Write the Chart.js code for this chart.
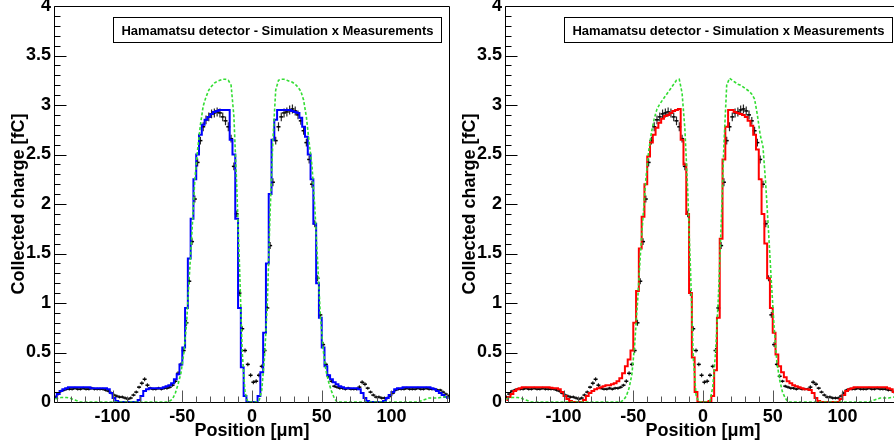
<!DOCTYPE html>
<html>
<head>
<meta charset="utf-8">
<script src="https://cdn.jsdelivr.net/npm/chart.js@4.4.1/dist/chart.umd.min.js"></script>
<style>
  html, body { margin:0; padding:0; background:#fff; }
  body { width:894px; height:445px; overflow:hidden; position:relative; }
  .pane { position:absolute; top:0; width:452px; height:445px; }
</style>
</head>
<body>
<div class="pane" style="left:0"><canvas id="c1"></canvas></div>
<div class="pane" style="left:451px"><canvas id="c2"></canvas></div>
<script>
// ---- data (bin centres in micrometres, collected charge in fC) ----
const positions = [
 -141,-139,-137,-135,-133,-131,-129,-127,-125,-123,
 -121,-119,-117,-115,-113,-111,-109,-107,-105,-103,
 -101,-99,-97,-95,-93,-91,-89,-87,-85,-83,
 -81,-79,-77,-75,-73,-71,-69,-67,-65,-63,
 -61,-59,-57,-55,-53,-51,-49,-47,-45,-43,
 -41,-39,-37,-35,-33,-31,-29,-27,-25,-23,
 -21,-19,-17,-15,-13,-11,-9,-7,-5,-3,
 -1,1,3,5,7,9,11,13,15,17,
 19,21,23,25,27,29,31,33,35,37,
 39,41,43,45,47,49,51,53,55,57,
 59,61,63,65,67,69,71,73,75,77,
 79,81,83,85,87,89,91,93,95,97,
 99,101,103,105,107,109,111,113,115,117,
 119,121,123,125,127,129,131,133,135,137,
 139,141];

const measured = [
 0.05,0.08,0.11,0.12,0.13,0.13,0.13,0.14,0.13,0.13,
 0.14,0.13,0.13,0.14,0.13,0.13,0.13,0.13,0.12,0.11,
 0.09,0.07,0.06,0.05,0.05,0.04,0.03,0.04,0.07,0.10,
 0.15,0.19,0.23,0.17,0.14,0.13,0.13,0.14,0.13,0.14,
 0.14,0.15,0.17,0.21,0.29,0.38,0.52,0.80,1.22,1.62,
 2.05,2.42,2.64,2.78,2.85,2.88,2.91,2.92,2.93,2.92,
 2.88,2.84,2.78,2.66,2.38,1.90,1.10,0.74,0.52,0.38,
 0.27,0.20,0.21,0.27,0.36,0.52,0.95,1.58,2.22,2.64,
 2.78,2.88,2.92,2.93,2.95,2.96,2.94,2.90,2.84,2.74,
 2.62,2.45,2.20,1.80,1.25,0.88,0.58,0.38,0.26,0.21,
 0.16,0.15,0.14,0.14,0.13,0.14,0.13,0.13,0.13,0.15,
 0.20,0.18,0.14,0.10,0.07,0.05,0.05,0.04,0.04,0.04,
 0.06,0.09,0.12,0.13,0.13,0.13,0.14,0.13,0.13,0.13,
 0.14,0.13,0.13,0.14,0.13,0.13,0.13,0.12,0.12,0.10,
 0.08,0.06];

const measuredErr = [
 0.015,0.015,0.015,0.015,0.015,0.015,0.015,0.015,0.015,0.015,
 0.015,0.015,0.015,0.015,0.015,0.015,0.015,0.015,0.015,0.015,
 0.015,0.015,0.015,0.015,0.015,0.015,0.015,0.015,0.015,0.015,
 0.015,0.02,0.02,0.02,0.015,0.015,0.015,0.015,0.015,0.015,
 0.015,0.015,0.015,0.02,0.02,0.02,0.025,0.03,0.03,0.035,
 0.035,0.04,0.04,0.045,0.045,0.045,0.045,0.045,0.045,0.045,
 0.045,0.045,0.045,0.04,0.04,0.035,0.03,0.025,0.02,0.02,
 0.02,0.02,0.02,0.02,0.02,0.025,0.03,0.035,0.04,0.04,
 0.045,0.045,0.045,0.045,0.045,0.045,0.045,0.045,0.04,0.04,
 0.04,0.04,0.035,0.035,0.03,0.03,0.025,0.02,0.02,0.015,
 0.015,0.015,0.015,0.015,0.015,0.015,0.015,0.015,0.015,0.02,
 0.02,0.02,0.015,0.015,0.015,0.015,0.015,0.015,0.015,0.015,
 0.015,0.015,0.015,0.015,0.015,0.015,0.015,0.015,0.015,0.015,
 0.015,0.015,0.015,0.015,0.015,0.015,0.015,0.015,0.015,0.015,
 0.015,0.015];

const simBlue = [
 0.05,0.08,0.11,0.13,0.14,0.15,0.15,0.15,0.15,0.15,
 0.15,0.15,0.15,0.14,0.14,0.14,0.14,0.14,0.14,0.13,
 0.09,0.04,0.01,0,0,0,0,0,0,0,
 0.02,0.06,0.11,0.13,0.14,0.14,0.14,0.14,0.14,0.15,
 0.16,0.17,0.19,0.23,0.28,0.38,0.55,0.95,1.45,1.85,
 2.25,2.50,2.70,2.80,2.85,2.88,2.91,2.93,2.94,2.95,
 2.95,2.95,2.95,2.65,2.50,1.85,0.95,0.35,0.06,0,
 0,0,0,0.06,0.30,0.70,1.40,2.10,2.65,2.85,
 2.95,2.95,2.95,2.95,2.95,2.94,2.93,2.92,2.87,2.78,
 2.68,2.50,2.25,1.80,1.20,0.85,0.55,0.36,0.27,0.23,
 0.20,0.18,0.16,0.15,0.14,0.14,0.14,0.14,0.14,0.13,
 0.09,0.04,0.01,0,0,0,0,0,0.01,0.04,
 0.07,0.10,0.13,0.14,0.14,0.15,0.15,0.15,0.15,0.15,
 0.15,0.15,0.15,0.15,0.15,0.14,0.13,0.11,0.09,0.07,
 0.05,0.04];

const simGreenLeft = [
 0.03,0.04,0.045,0.045,0.045,0.04,0.03,0.02,0.01,0,
 0,0,0,0,0,0,0,0,0,0,
 0,0,0,0,0,0,0,0,0,0,
 0,0,0,0,0,0,0,0,0,0,
 0,0.01,0.03,0.09,0.18,0.29,0.48,0.78,1.26,1.73,
 2.25,2.55,2.80,2.99,3.08,3.15,3.19,3.22,3.24,3.25,
 3.26,3.26,3.25,3.20,2.89,2.20,1.39,0.50,0.10,0,
 0,0,0,0.01,0.12,0.45,1.00,1.92,2.65,3.15,
 3.25,3.26,3.26,3.25,3.24,3.23,3.21,3.18,3.14,3.05,
 2.88,2.62,2.39,1.98,1.43,0.88,0.53,0.32,0.20,0.11,
 0.04,0,0,0,0,0,0,0,0,0,
 0,0,0,0,0,0,0,0,0,0,
 0,0,0,0,0,0,0,0,0,0,
 0,0.01,0.02,0.03,0.04,0.04,0.04,0.04,0.045,0.05,
 0.05,0.05];

const simRed = [
 0.02,0.05,0.08,0.11,0.13,0.14,0.15,0.15,0.15,0.15,
 0.15,0.15,0.15,0.15,0.15,0.15,0.145,0.14,0.14,0.13,
 0.10,0.06,0.03,0.01,0,0,0,0,0.02,0.06,
 0.09,0.11,0.13,0.14,0.15,0.16,0.17,0.17,0.18,0.19,
 0.21,0.24,0.29,0.36,0.43,0.52,0.80,1.12,1.55,1.87,
 2.20,2.48,2.62,2.70,2.77,2.82,2.86,2.89,2.90,2.92,
 2.94,2.95,2.96,2.65,2.40,1.90,1.10,0.45,0.10,0,
 0,0,0,0.01,0.06,0.32,0.85,1.65,2.45,2.78,
 2.95,2.95,2.93,2.92,2.91,2.90,2.88,2.84,2.79,2.70,
 2.55,2.25,1.90,1.60,1.25,0.95,0.70,0.48,0.36,0.30,
 0.25,0.21,0.19,0.17,0.16,0.15,0.14,0.13,0.13,0.12,
 0.09,0.04,0.01,0,0,0,0,0,0,0,
 0.03,0.07,0.11,0.13,0.14,0.15,0.15,0.15,0.15,0.15,
 0.15,0.15,0.15,0.15,0.15,0.15,0.15,0.14,0.13,0.10,
 0.08,0.06];

const simGreenRight = [
 0.03,0.04,0.045,0.045,0.045,0.04,0.03,0.02,0.01,0,
 0,0,0,0,0,0,0,0,0,0,
 0,0,0,0,0,0,0,0,0,0,
 0,0,0,0,0,0,0,0,0,0,
 0,0,0.02,0.06,0.14,0.28,0.58,1.00,1.47,1.87,
 2.25,2.53,2.72,2.86,2.96,3.01,3.05,3.09,3.13,3.17,
 3.21,3.25,3.26,3.12,2.76,2.15,1.35,0.45,0.07,0,
 0,0,0,0.01,0.15,0.50,1.05,1.78,2.60,3.20,
 3.27,3.25,3.23,3.21,3.20,3.18,3.16,3.14,3.11,3.06,
 2.90,2.70,2.58,2.20,1.72,1.22,0.76,0.40,0.22,0.10,
 0.04,0,0,0,0,0,0,0,0,0,
 0,0,0,0,0,0,0,0,0,0,
 0,0,0,0,0,0,0,0,0,0,
 0,0.01,0.02,0.03,0.04,0.04,0.04,0.04,0.045,0.05,
 0.05,0.05];

const xRange = [-142, 142];
const yRange = [0, 4];
const xTickStep = 50, yTickStep = 0.5;
const xMinorStep = 10, yMinorStep = 0.1;
const legendText = 'Hamamatsu detector - Simulation x Measurements';
const xTitle = 'Position [\u03bcm]';
const yTitle = 'Collected charge [fC]';

// ---- helpers ----
const FONT = "'Liberation Sans', Arial, Helvetica, sans-serif";
function pts(ys) { return positions.map((x, i) => ({x: x, y: ys[i]})); }
function errSegs(ys, es) {
  const out = [];
  positions.forEach((x, i) => {
    out.push({x: x, y: ys[i] - es[i]}, {x: x, y: ys[i] + es[i]}, {x: x, y: null});
  });
  return out;
}

const framePlugin = {
  id: 'rootFrame',
  afterDraw(chart) {
    const {ctx, chartArea: a, scales: {x, y}} = chart;
    ctx.save();
    ctx.strokeStyle = '#000';
    ctx.lineWidth = 1;
    const L = Math.round(a.left) + 0.5, T = Math.round(a.top) + 0.5;
    const R = Math.round(a.right) - 0.5, B = Math.round(a.bottom) + 0.5;
    ctx.beginPath();
    ctx.moveTo(L, B); ctx.lineTo(L, T); ctx.lineTo(R, T); ctx.lineTo(R, B); ctx.lineTo(L, B);
    ctx.stroke();
    // y ticks (inside)
    ctx.beginPath();
    const nY = Math.round((yRange[1] - yRange[0]) / yMinorStep);
    for (let k = 0; k <= nY; k++) {
      const v = yRange[0] + k * yMinorStep;
      const py = Math.round(y.getPixelForValue(v)) + 0.5;
      const len = (k % Math.round(yTickStep / yMinorStep) === 0) ? 12 : 6;
      ctx.moveTo(L, py); ctx.lineTo(L + len, py);
    }
    ctx.stroke();
    // x ticks (inside)
    ctx.strokeStyle = '#555';
    ctx.beginPath();
    const startX = Math.ceil(xRange[0] / xMinorStep) * xMinorStep;
    for (let v = startX; v <= xRange[1]; v += xMinorStep) {
      const px = Math.round(x.getPixelForValue(v)) + 0.5;
      const len = (v % xTickStep === 0) ? 12 : 6;
      ctx.moveTo(px, B); ctx.lineTo(px, B - len);
    }
    ctx.stroke();
    // legend box
    const bx = Math.round(a.left) + 59.5, by = 17.5, bw = 328, bh = 25;
    ctx.fillStyle = '#fff';
    ctx.fillRect(bx, by, bw, bh);
    ctx.strokeStyle = '#000';
    ctx.strokeRect(bx, by, bw, bh);
    ctx.fillStyle = '#000';
    ctx.font = 'bold 13px ' + FONT;
    ctx.textAlign = 'center';
    ctx.textBaseline = 'middle';
    ctx.fillText(legendText, bx + bw / 2, by + bh / 2 + 1);
    ctx.restore();
  }
};

function makeChart(id, lineColor, simLine, simGreen) {
  const tickFont = {family: FONT, size: 18, weight: 'bold'};
  return new Chart(document.getElementById(id), {
    type: 'line',
    data: {
      datasets: [
        { label: 'sim2', data: pts(simGreen), borderColor: '#33dd33', borderWidth: 1.6,
          borderDash: [3, 2], pointRadius: 0, tension: 0, fill: false },
        { label: 'sim', data: pts(simLine), borderColor: lineColor, borderWidth: 2,
          stepped: 'middle', pointRadius: 0, fill: false },
        { label: 'data', data: pts(measured), showLine: false, pointStyle: 'line',
          pointRadius: 2, pointBorderWidth: 1.5, borderColor: '#000', backgroundColor: '#000' },
        { label: 'err', data: errSegs(measured, measuredErr), borderColor: 'rgba(0,0,0,0.85)',
          borderWidth: 1.2, pointRadius: 0, spanGaps: false, fill: false }
      ]
    },
    options: {
      responsive: true,
      maintainAspectRatio: false,
      animation: false,
      events: [],
      layout: { autoPadding: false, padding: { left: 0, right: 2, top: 6, bottom: 0 } },
      plugins: { legend: { display: false }, tooltip: { enabled: false } },
      scales: {
        x: {
          type: 'linear', min: xRange[0], max: xRange[1],
          afterFit(s) { s.height = 43; s.paddingLeft = 0; s.paddingRight = 0; },
          grid: { display: false, drawTicks: false },
          border: { display: false },
          ticks: { stepSize: xTickStep, includeBounds: false, font: tickFont, color: '#000',
                   padding: 4, maxRotation: 0, autoSkip: false,
                   callback: v => String(v) },
          title: { display: true, text: xTitle, font: tickFont, color: '#000',
                   padding: { top: 0, bottom: 3 } }
        },
        y: {
          type: 'linear', min: yRange[0], max: yRange[1],
          afterFit(s) { s.width = 54; s.paddingTop = 0; s.paddingBottom = 0; },
          grid: { display: false, drawTicks: false },
          border: { display: false },
          ticks: { stepSize: yTickStep, font: tickFont, color: '#000', padding: 3,
                   autoSkip: false, callback: v => String(v) },
          title: { display: true, text: yTitle, font: tickFont, color: '#000',
                   padding: { top: 8, bottom: 0 } }
        }
      }
    },
    plugins: [framePlugin]
  });
}

makeChart('c1', '#0000ff', simBlue, simGreenLeft);
makeChart('c2', '#ff0000', simRed, simGreenRight);
</script>
</body>
</html>
